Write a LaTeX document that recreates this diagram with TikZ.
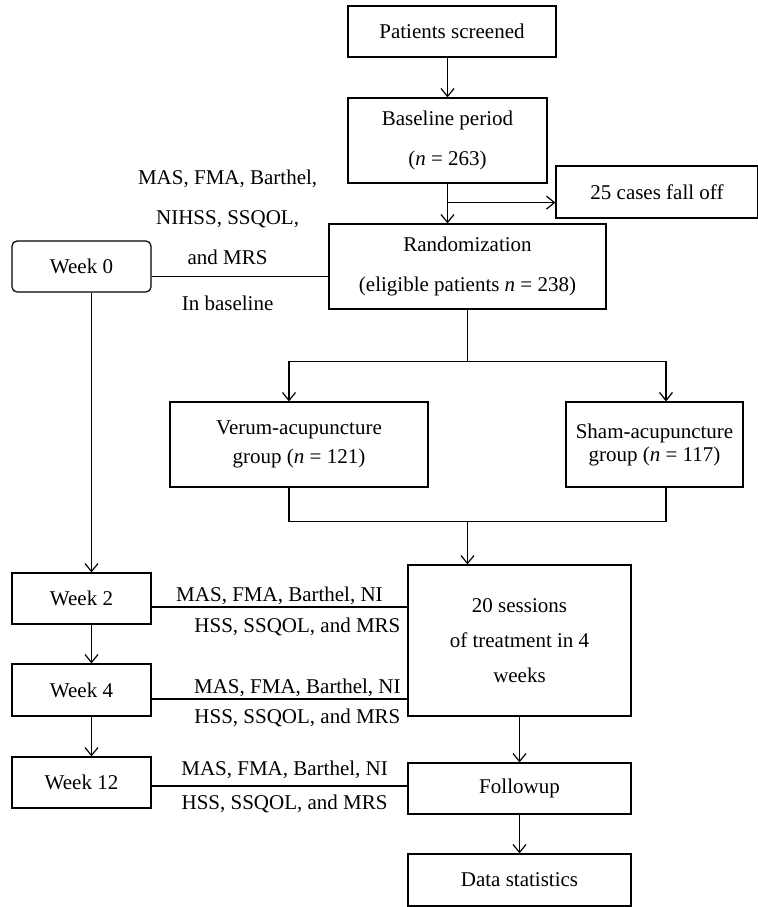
\documentclass[tikz,border=0pt]{standalone}
\usepackage{fontspec}
\setmainfont{Liberation Serif}
\usepackage{tikz}
\usetikzlibrary{arrows.meta, positioning, calc}

\begin{document}
\begin{tikzpicture}[
    x=0.5pt, y=-0.5pt,
    block/.style={rectangle, draw=black, line width=0.6pt, align=center, inner sep=2pt, font=\fontsize{10.5}{20}\selectfont},
    weekbox/.style={block, minimum width=69.5pt, minimum height=25.5pt},
    arrow/.style={-{Straight Barb[length=4pt, width=6.5pt]}, line width=0.6pt},
    link/.style={line width=0.6pt},
    lbl/.style={font=\fontsize{10.5}{20}\selectfont, align=center}
]
    \useasboundingbox (0,0) rectangle (758,907);

    % Nodes
    \node[block, minimum width=104pt, minimum height=25.5pt] (screened) at (452,31.5) {Patients screened};
    \node[block, minimum width=99.5pt, minimum height=42.5pt] (baseline) at (447.5,140.5) {Baseline period\\(\textit{n} = 263)};
    \node[block, minimum width=101pt, minimum height=26pt] (falloff) at (657,192) {25 cases fall off};
    \node[block, minimum width=138.5pt, minimum height=42.5pt] (rand) at (467.5,266.5) {Randomization\\(eligible patients \textit{n} = 238)};
    \node[weekbox, rounded corners=2.5pt] (week0) at (81.5,266.5) {Week 0};
    \node[block, minimum width=129pt, minimum height=42.5pt, font=\fontsize{10.5}{14.5}\selectfont] (verum) at (299,444.5) {Verum-acupuncture\\group (\textit{n} = 121)};
    \node[block, minimum width=88.5pt, minimum height=42.5pt, font=\fontsize{10.5}{11.5}\selectfont] (sham) at (654.5,444.5) {Sham-acupuncture\\group (\textit{n} = 117)};
    \node[block, minimum width=111.5pt, minimum height=75.5pt, font=\fontsize{10.5}{17.5}\selectfont] (treat) at (519.5,640.5) {20 sessions\\of treatment in 4\\weeks};
    \node[weekbox] (week2) at (81.5,598.5) {Week 2};
    \node[weekbox, minimum height=26pt] (week4) at (81.5,690) {Week 4};
    \node[weekbox] (week12) at (81.5,782.5) {Week 12};
    \node[block, minimum width=111.5pt, minimum height=25.5pt] (followup) at (519.5,788.5) {Followup};
    \node[block, minimum width=111.5pt, minimum height=26pt] (stats) at (519.5,880) {Data statistics};

    % Connections
    \draw[arrow] (baseline.north |- screened.south) -- (baseline.north);
    \draw[arrow] (baseline.south) -- (baseline.south |- rand.north);
    \coordinate (fork) at ($(baseline.south)+(0,19)$);
    \draw[arrow] (fork) -- (fork -| falloff.west);

    \draw[link] ([yshift=-5pt]week0.east) -- node[lbl, above, pos=0.43, yshift=2.5pt] {MAS, FMA, Barthel,\\NIHSS, SSQOL,\\and MRS} node[lbl, below, pos=0.43, yshift=-6pt] {In baseline} ([yshift=-5pt]week0.east -| rand.west);

    \coordinate (split) at ($(rand.south)+(0,52)$);
    \draw[link] (rand.south) -- (split);
    \draw[arrow] (split) -| ([xshift=-5pt]verum.north);
    \draw[arrow] (split) -| ([xshift=5.75pt]sham.north);

    \coordinate (merge) at ($(rand.south)+(0,212)$);
    \draw[link] ([xshift=-5pt]verum.south) |- (merge) -| ([xshift=5.75pt]sham.south);
    \draw[arrow] (merge) -- (merge |- treat.north);

    \draw[arrow] ([xshift=5pt]week0.south) -- ([xshift=5pt]week0.south |- week2.north);
    \draw[arrow] ([xshift=5pt]week2.south) -- ([xshift=5pt]week4.north);
    \draw[arrow] ([xshift=5pt]week4.south) -- ([xshift=5pt]week12.north);

    \draw[link] ([yshift=-4.25pt]week2.east) -- node[lbl, above, pos=0.5, yshift=-2.3pt] {MAS, FMA, Barthel, NI} node[lbl, below, pos=0.57, yshift=-2pt] {HSS, SSQOL, and MRS} ([yshift=-4.25pt]week2.east -| treat.west);
    \draw[link] ([yshift=-4.5pt]week4.east) -- node[lbl, above, pos=0.57, yshift=-2.3pt] {MAS, FMA, Barthel, NI} node[lbl, below, pos=0.57, yshift=-1.5pt] {HSS, SSQOL, and MRS} ([yshift=-4.5pt]week4.east -| treat.west);
    \draw[link] ([yshift=-1.75pt]week12.east) -- node[lbl, above, pos=0.52] {MAS, FMA, Barthel, NI} node[lbl, below, pos=0.52, yshift=-1pt] {HSS, SSQOL, and MRS} ([yshift=-1.75pt]week12.east -| followup.west);

    \draw[arrow] (treat.south) -- (followup.north);
    \draw[arrow] (followup.south) -- (stats.north);

\end{tikzpicture}
\end{document}
